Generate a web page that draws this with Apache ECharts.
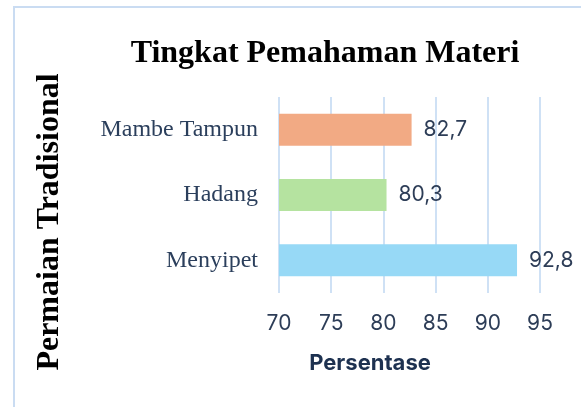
<!DOCTYPE html>
<html>
<head>
<meta charset="utf-8">
<script src="https://cdn.jsdelivr.net/npm/echarts@6/dist/echarts.min.js"></script>
<style>
html, body { margin: 0; padding: 0; background: #fff; }
#main { width: 581px; height: 407px; }
</style>
</head>
<body>
<div id="main"></div>
<script>
// data, bottom to top
var categories = ['Menyipet', 'Hadang', 'Mambe Tampun'];
var values = [92.8, 80.3, 82.7];
var barColors = ['#97d9f6', '#b5e3a0', '#f2aa84'];
var xMin = 70, xMax = 95, xStep = 5;

var chart = echarts.init(document.getElementById('main'), null, { renderer: 'canvas' });

var option = {
    backgroundColor: '#fff',
    animation: false,
    title: {
        text: 'Tingkat Pemahaman Materi',
        left: 320,
        top: 33,
        textAlign: 'center',
        textStyle: {
            fontFamily: 'Liberation Serif',
            fontWeight: 'bold',
            fontSize: 32,
            color: '#000'
        }
    },
    graphic: [
        {
            type: 'rect',
            shape: { x: 14, y: 7, width: 600, height: 420 },
            style: { fill: 'none', stroke: '#cadcf2', lineWidth: 2 },
            silent: true
        },
        {
            // y axis title
            type: 'text',
            x: 50,
            y: 222,
            rotation: Math.PI / 2,
            style: {
                text: 'Permaian Tradisional',
                fontFamily: 'Liberation Serif',
                fontWeight: 'bold',
                fontSize: 32,
                fill: '#000',
                align: 'center',
                verticalAlign: 'middle'
            }
        },
        {
            // x axis title
            type: 'text',
            x: 370,
            y: 363,
            style: {
                text: 'Persentase',
                fontFamily: 'Inter',
                fontWeight: 'bold',
                fontSize: 22,
                fill: '#1d3150',
                align: 'center',
                verticalAlign: 'middle'
            }
        }
    ],
    grid: {
        left: 279,
        right: 41,
        top: 97,
        bottom: 114
    },
    xAxis: {
        type: 'value',
        min: xMin,
        max: xMax,
        interval: xStep,
        axisLine: { show: false },
        axisTick: { show: false },
        axisLabel: {
            margin: 20,
            fontFamily: 'Inter',
            fontSize: 21,
            color: '#2d3d57',
            formatter: function (v) { return String(v); }
        },
        splitLine: { lineStyle: { color: '#cfe1f5', width: 2 } }
    },
    yAxis: {
        type: 'category',
        data: categories,
        axisLine: { show: false },
        axisTick: { show: false },
        axisLabel: {
            margin: 21,
            fontFamily: 'Liberation Serif',
            fontSize: 24,
            color: '#2b3f5c'
        }
    },
    series: [
        {
            type: 'bar',
            barWidth: 32,
            data: values.map(function (v, i) {
                return { value: v, itemStyle: { color: barColors[i] } };
            }),
            label: {
                show: true,
                position: 'right',
                distance: 12,
                fontFamily: 'Inter',
                fontSize: 21,
                color: '#2d3d57',
                formatter: function (p) { return String(p.value).replace('.', ','); }
            }
        }
    ]
};

chart.setOption(option);
</script>
</body>
</html>
